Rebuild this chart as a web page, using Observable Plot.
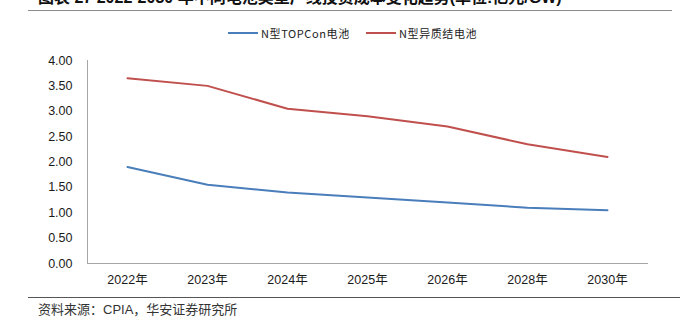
<!DOCTYPE html>
<html>
<head>
<meta charset="utf-8">
<script src="https://cdn.jsdelivr.net/npm/d3@7"></script>
<script src="https://cdn.jsdelivr.net/npm/@observablehq/plot@0.6"></script>
<style>
  html, body { margin: 0; padding: 0; background: #fff; }
  #wrap { position: relative; width: 695px; height: 321px; overflow: hidden; font-family: "Liberation Sans", Arial, "Noto Sans CJK SC", sans-serif; }
  #title { position: absolute; left: 38px; top: -10px; font-size: 16px; line-height: 16px; font-weight: bold; color: #111; white-space: nowrap; font-family: "Liberation Sans", Arial, "Noto Sans CJK SC", sans-serif; }
  #topline { position: absolute; left: 28px; top: 10px; width: 644px; height: 0; border-top: 1.5px solid #8c8c8c; }
  #legend { position: absolute; top: 26px; left: 0; width: 695px; height: 14px; font-size: 11px; font-family: "Noto Sans CJK SC", serif; color: #222; }
  .lg { position: absolute; top: 0; display: flex; align-items: center; height: 14px; white-space: nowrap; letter-spacing: 0.6px; }
  .sw { display: inline-block; width: 30px; height: 0; border-top: 2.5px solid; margin-right: 3px; }
  #chart { position: absolute; left: 0; top: 0; }
  #chart svg text { fill: #1a1a1a; }
  #botline { position: absolute; left: 28px; top: 297px; width: 652px; height: 0; border-top: 1.2px solid #555; }
  #source { position: absolute; left: 38px; top: 302px; font-size: 13px; line-height: 15px; color: #333; white-space: nowrap; font-family: "Liberation Sans", Arial, "Noto Sans CJK SC", sans-serif; }
</style>
</head>
<body>
<div id="wrap">
  <div id="chart"></div>
  <div id="title">图表 27 2022-2030 年不同电池类型产线投资成本变化趋势(单位:亿元/GW)</div>
  <div id="topline"></div>
  <div id="legend"></div>
  <div id="botline"></div>
  <div id="source">资料来源：CPIA，华安证券研究所</div>
</div>
<script>
const years = ["2022年", "2023年", "2024年", "2025年", "2026年", "2028年", "2030年"];
const seriesNames = ["N型TOPCon电池", "N型异质结电池"];
const seriesColors = ["#4a7ebb", "#c0504d"];
const topconCost = [1.90, 1.55, 1.40, 1.30, 1.20, 1.10, 1.05];
const hjtCost = [3.65, 3.50, 3.05, 2.90, 2.70, 2.35, 2.10];
const yTicks = [0, 0.5, 1, 1.5, 2, 2.5, 3, 3.5, 4];

const rows = [];
years.forEach((y, i) => {
  rows.push({year: y, series: seriesNames[0], value: topconCost[i]});
  rows.push({year: y, series: seriesNames[1], value: hjtCost[i]});
});

const chart = Plot.plot({
  width: 695,
  height: 321,
  marginTop: 60,
  marginBottom: 58,
  marginLeft: 87,
  marginRight: 48,
  style: {fontSize: "12.5px", fontFamily: "'Liberation Sans', Arial, 'Noto Sans CJK SC', sans-serif", color: "#a6a6a6", background: "transparent"},
  x: {type: "point", domain: years, padding: 0.5, label: null, tickSize: 0, tickPadding: 12, line: true},
  y: {domain: [0, 4], ticks: yTicks, tickFormat: d => d.toFixed(2), label: null, tickSize: 0, tickPadding: 15, line: true},
  color: {domain: seriesNames, range: seriesColors},
  marks: [
    Plot.line(rows, {x: "year", y: "value", stroke: "series", strokeWidth: 2, curve: "linear"})
  ]
});
document.getElementById("chart").appendChild(chart);

const legend = document.getElementById("legend");
const legendLeft = [228, 366];
seriesNames.forEach((name, i) => {
  const item = document.createElement("div");
  item.className = "lg";
  item.style.left = legendLeft[i] + "px";
  const sw = document.createElement("span");
  sw.className = "sw";
  sw.style.borderColor = seriesColors[i];
  item.appendChild(sw);
  const t = document.createElement("span");
  t.textContent = name;
  item.appendChild(t);
  legend.appendChild(item);
});
</script>
</body>
</html>
